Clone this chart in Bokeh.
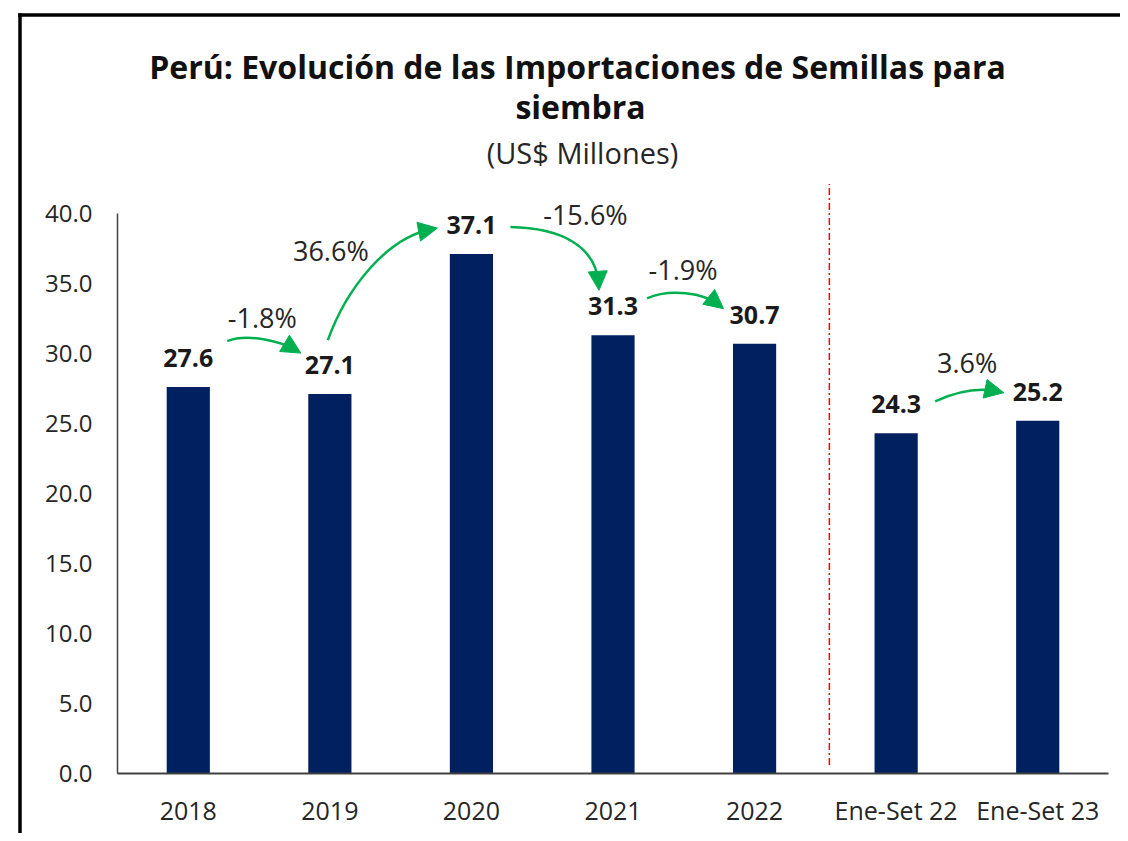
from bokeh.plotting import figure
from bokeh.models import (Range1d, FixedTicker, PrintfTickFormatter,
                          Label, Arrow, NormalHead)
from bokeh.core.properties import value
from bokeh.embed import file_html
from bokeh.resources import INLINE

# ---------------- data ----------------
categories = ["2018", "2019", "2020", "2021", "2022", "Ene-Set 22", "Ene-Set 23"]
values = [27.6, 27.1, 37.1, 31.3, 30.7, 24.3, 25.2]
value_labels = ["27.6", "27.1", "37.1", "31.3", "30.7", "24.3", "25.2"]
change_labels = ["-1.8%", "36.6%", "-15.6%", "-1.9%", "3.6%"]
change_from = [0, 1, 2, 3, 5]
change_to = [1, 2, 3, 4, 6]
y_ticks = [0, 5, 10, 15, 20, 25, 30, 35, 40]

title_line1 = "Perú: Evolución de las Importaciones de Semillas para"
title_line2 = "siembra"
subtitle = "(US$ Millones)"

# ---------------- layout (page pixels) ----------------
W, H = 1120, 833
PLOT_LEFT, PLOT_RIGHT, ZERO_Y = 117, 1108, 773
N = len(categories)
PX = (PLOT_RIGHT - PLOT_LEFT) / N     # pixels per category
PY = 14.0                              # pixels per unit
X0 = PLOT_LEFT + 0.5 * PX              # page x of first category centre
FONT = "Open Sans"
NAVY = "#002060"
GREEN = "#00B050"
LABEL_OFF = 29                         # data label offset above bar (px)


def to_x(px):
    return (px - X0) / PX


def to_y(py):
    return (ZERO_Y - py) / PY


xpos = list(range(N))

p = figure(width=W, height=H, output_backend="svg", toolbar_location=None,
           x_range=Range1d(to_x(0), to_x(W)), y_range=Range1d(to_y(H), to_y(0)),
           min_border_left=0, min_border_right=0, min_border_top=0, min_border_bottom=0,
           background_fill_color="white", border_fill_color="white")
p.outline_line_color = None
p.xgrid.grid_line_color = None
p.ygrid.grid_line_color = None

# axes (drawn inside the frame at fixed locations)
p.yaxis.fixed_location = -0.5
p.yaxis.bounds = (0, 40)
p.yaxis.ticker = FixedTicker(ticks=y_ticks)
p.yaxis.formatter = PrintfTickFormatter(format="%.1f")
p.yaxis.major_tick_in = 0
p.yaxis.major_tick_out = 0
p.yaxis.minor_tick_line_color = None
p.yaxis.axis_line_color = "#404040"
p.yaxis.axis_line_width = 1.5
p.yaxis.major_label_standoff = 25
p.yaxis.major_label_text_font = FONT
p.yaxis.major_label_text_font_size = "24px"
p.yaxis.major_label_text_color = "#262626"

p.xaxis.fixed_location = 0
p.xaxis.bounds = (-0.5, N - 0.5)
p.xaxis.ticker = FixedTicker(ticks=xpos)
p.xaxis.major_label_overrides = {i: c for i, c in zip(xpos, categories)}
p.xaxis.major_tick_in = 0
p.xaxis.major_tick_out = 0
p.xaxis.minor_tick_line_color = None
p.xaxis.axis_line_color = "#404040"
p.xaxis.axis_line_width = 2
p.xaxis.major_label_standoff = 19
p.xaxis.major_label_text_font = FONT
p.xaxis.major_label_text_font_size = "25px"
p.xaxis.major_label_text_color = "#262626"

# bars
p.vbar(x=xpos, top=values, width=0.305, fill_color=NAVY, line_color=None)

# data labels
p.text(x=xpos, y=values, text=value_labels, y_offset=-LABEL_OFF,
       text_align="center", text_baseline="middle",
       text_font=value(FONT), text_font_style="bold",
       text_font_size="25px", text_color="#1a1a1a")


# label anchor (page pixels) of bar i
def lab_x(i):
    return X0 + i * PX


def lab_y(i):
    return ZERO_Y - values[i] * PY - LABEL_OFF


# arrow geometry: offsets (px, +right / +down) from the two data labels
arrow_geom = [
    # start offset,   end offset,     ctrl0 rel start, ctrl1 rel end
    ((39, -17), (-29, -12), (20, -8), (-20, -12)),
    ((-2, -25), (-34, 3), (18, -50), (-52, 10)),
    ((39, 2), (-14, -16), (50, 1), (-3, -45)),
    ((34, -8), (-31, -6), (23, -10), (-20, -16)),
    ((39, -3), (-34, 1), (20, -9), (-28, -6)),
]
pct_offsets = [(74, -41), (1, -115), (114, -11), (70, -37), (71, -42)]

bx0, by0, bx1, by1, bcx0, bcy0, bcx1, bcy1 = ([] for _ in range(8))
for k, (i, j) in enumerate(zip(change_from, change_to)):
    (s_dx, s_dy), (e_dx, e_dy), (c0x, c0y), (c1x, c1y) = arrow_geom[k]
    sx, sy = lab_x(i) + s_dx, lab_y(i) + s_dy
    ex, ey = lab_x(j) + e_dx, lab_y(j) + e_dy
    cx0, cy0 = sx + c0x, sy + c0y
    cx1, cy1 = ex + c1x, ey + c1y
    tx, ty = ex - cx1, ey - cy1
    n = (tx ** 2 + ty ** 2) ** 0.5
    ux, uy = tx / n, ty / n
    bx0.append(to_x(sx)); by0.append(to_y(sy))
    bx1.append(to_x(ex - ux * 6)); by1.append(to_y(ey - uy * 6))
    bcx0.append(to_x(cx0)); bcy0.append(to_y(cy0))
    bcx1.append(to_x(cx1)); bcy1.append(to_y(cy1))
    p.add_layout(Arrow(x_start=to_x(ex - ux * 10), y_start=to_y(ey - uy * 10),
                       x_end=to_x(ex), y_end=to_y(ey), line_alpha=0,
                       end=NormalHead(size=19, fill_color=GREEN,
                                      line_color=GREEN, line_width=1)))
    ox, oy = pct_offsets[k]
    p.add_layout(Label(x=to_x(lab_x(i) + ox), y=to_y(lab_y(i) + oy), text=change_labels[k],
                       text_align="center", text_baseline="middle",
                       text_font=FONT, text_font_size="27px", text_color="#262626"))

p.bezier(x0=bx0, y0=by0, x1=bx1, y1=by1, cx0=bcx0, cy0=bcy0, cx1=bcx1, cy1=bcy1,
         line_color=GREEN, line_width=2.5)

# red dash-dot separator between annual and Jan-Sep data
sep_x = 4.5 + 4 / PX
p.segment(x0=[sep_x], y0=[0.6], x1=[sep_x], y1=[42.1],
          line_color="#FF0000", line_width=1.5, line_dash="7 3 2 3")

# outer black frame (left and top edges; the others fall outside the picture)
p.segment(x0=[to_x(19.5), to_x(17.75)], y0=[to_y(12.75), to_y(14.5)],
          x1=[to_x(19.5), to_x(W + 10)], y1=[to_y(H + 10), to_y(14.5)],
          line_color="black", line_width=3.5)

# titles (vertically centred on their lines)
p.add_layout(Label(x=to_x(577), y=to_y(66), text=title_line1, text_align="center",
                   text_baseline="middle", text_font=FONT, text_font_style="bold",
                   text_font_size="32px", text_color="#111111"))
p.add_layout(Label(x=to_x(580), y=to_y(106), text=title_line2, text_align="center",
                   text_baseline="middle", text_font=FONT, text_font_style="bold",
                   text_font_size="32px", text_color="#111111"))
p.add_layout(Label(x=to_x(582), y=to_y(152), text=subtitle, text_align="center",
                   text_baseline="middle", text_font=FONT,
                   text_font_size="29px", text_color="#262626"))

open("out.html", "w").write(file_html(p, INLINE))
